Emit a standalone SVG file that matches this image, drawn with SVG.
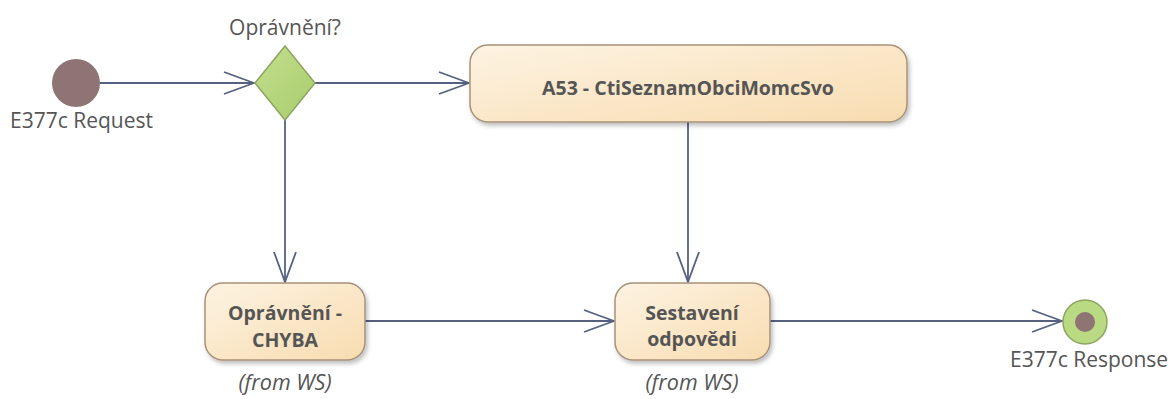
<svg xmlns="http://www.w3.org/2000/svg" width="1175" height="399" viewBox="0 0 1175 399">
<defs>
<linearGradient id="boxg" x1="0" y1="0" x2="1" y2="1">
<stop offset="0" stop-color="#fdf3e2"/>
<stop offset="1" stop-color="#f8dcb0"/>
</linearGradient>
<linearGradient id="dg" x1="0" y1="0" x2="1" y2="1">
<stop offset="0" stop-color="#c4df8e"/>
<stop offset="1" stop-color="#a8cc6c"/>
</linearGradient>
<filter id="sh" x="-10%" y="-10%" width="130%" height="140%">
<feDropShadow dx="2" dy="3" stdDeviation="2" flood-color="#000" flood-opacity="0.25"/>
</filter>
<marker id="arr" viewBox="0 0 32 26" refX="31" refY="13" markerWidth="32" markerHeight="26" markerUnits="userSpaceOnUse" orient="auto">
<path d="M1,2 L31,13 L1,24" fill="none" stroke="#55617f" stroke-width="1.8"/>
</marker>
</defs>
<style>
.lbl{font-family:"Open Sans","Noto Sans",sans-serif;font-size:21px;fill:#555}
.bt{font-family:"Open Sans","Noto Sans",sans-serif;font-size:19.5px;font-weight:bold;fill:#555;text-anchor:middle}
.it{font-family:"Open Sans","Noto Sans",sans-serif;font-size:21.5px;font-style:italic;fill:#555;text-anchor:middle}
.box{fill:url(#boxg);stroke:#a8927a;stroke-width:1.5;filter:url(#sh)}
.edge{fill:none;stroke:#55617f;stroke-width:1.8;marker-end:url(#arr)}
</style>
<rect width="1175" height="399" fill="#fff"/>
<g id="connectors">
<path class="edge" d="M100,83 L254,83"/>
<path class="edge" d="M315,83 L469,83"/>
<path class="edge" d="M285,120 L285,282"/>
<path class="edge" d="M688,122 L688,282"/>
<path class="edge" d="M365,321 L614,321"/>
<path class="edge" d="M770,321 L1062,321"/>
</g>
<g id="start">
<circle cx="76" cy="83" r="24" fill="#8e7474"/>
<text class="lbl" x="10" y="128">E377c Request</text>
</g>
<g id="decision">
<path d="M285,46 L315,83 L285,120 L255,83 Z" fill="url(#dg)" stroke="#8da562" stroke-width="1.5"/>
<text class="lbl" x="285" y="35" text-anchor="middle">Oprávnění?</text>
</g>
<g id="a53">
<rect class="box" x="470" y="45" width="437" height="77" rx="18"/>
<text class="bt" x="688" y="95">A53 - CtiSeznamObciMomcSvo</text>
</g>
<g id="chyba">
<rect class="box" x="205" y="283" width="160" height="77" rx="18"/>
<text class="bt" x="285" y="320">Oprávnění -</text>
<text class="bt" x="285" y="347">CHYBA</text>
<text class="it" x="285" y="390">(from WS)</text>
</g>
<g id="sestaveni">
<rect class="box" x="615" y="283" width="155" height="77" rx="18"/>
<text class="bt" x="692" y="320">Sestavení</text>
<text class="bt" x="692" y="346">odpovědi</text>
<text class="it" x="692" y="390">(from WS)</text>
</g>
<g id="end">
<circle cx="1085" cy="322" r="22" fill="#b9d982" stroke="#8da562" stroke-width="1.5"/>
<circle cx="1085" cy="322" r="10" fill="#8e7474"/>
<text class="lbl" x="1010" y="367">E377c Response</text>
</g>
</svg>
